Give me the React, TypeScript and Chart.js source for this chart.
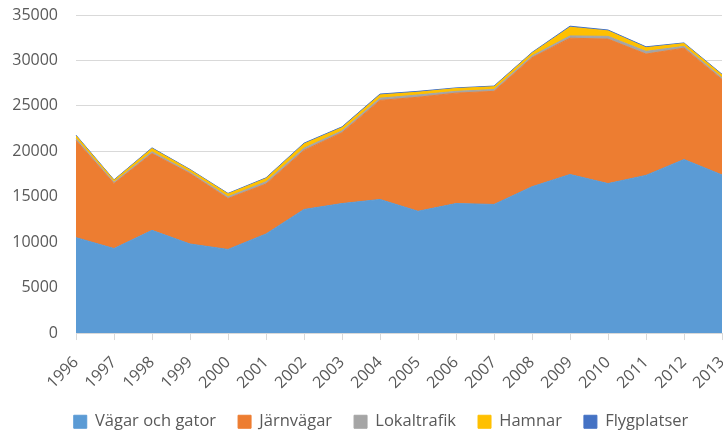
import React, { useEffect, useRef } from "react";
import { Chart, registerables } from "chart.js";

Chart.register(...registerables);

const years = ["1996","1997","1998","1999","2000","2001","2002","2003","2004","2005","2006","2007","2008","2009","2010","2011","2012","2013"];
const vagar = [10500, 9300, 11300, 9800, 9200, 10900, 13600, 14250, 14700, 13400, 14250, 14150, 16100, 17450, 16450, 17350, 19100, 17400];
const jarnvagar = [10700, 7150, 8450, 7750, 5600, 5500, 6500, 7800, 10900, 12550, 12150, 12450, 14200, 15000, 15900, 13350, 12250, 10500];
const lokaltrafik = [200, 150, 200, 150, 200, 250, 250, 200, 250, 250, 200, 200, 200, 250, 300, 300, 200, 200];
const hamnar = [300, 200, 350, 250, 300, 350, 450, 350, 350, 300, 300, 300, 300, 950, 600, 400, 300, 300];
const flygplatser = [80, 60, 80, 60, 70, 80, 100, 90, 100, 100, 80, 80, 80, 120, 100, 100, 80, 80];
const seriesNames = ["Vägar och gator", "Järnvägar", "Lokaltrafik", "Hamnar", "Flygplatser"];
const seriesColors = ["#5B9BD5", "#ED7D31", "#A5A5A5", "#FFC000", "#4472C4"];

const legendShift = {
  id: "legendShift",
  afterLayout(chart: any) {
    if (chart.legend) {
      chart.legend.left += 20;
      chart.legend.right += 20;
    }
  },
};

export default function App() {
  const ref = useRef<HTMLCanvasElement>(null);
  useEffect(() => {
    if (!ref.current) return;
    const all = [vagar, jarnvagar, lokaltrafik, hamnar, flygplatser];
    const font = "'Open Sans', 'Noto Sans', sans-serif";
    const chart = new Chart(ref.current, {
      type: "line",
      plugins: [legendShift],
      data: {
        labels: years,
        datasets: all.map((d, i) => ({
          label: seriesNames[i],
          data: d,
          backgroundColor: seriesColors[i],
          borderColor: seriesColors[i],
          borderWidth: 1,
          pointRadius: 0,
          tension: 0,
          fill: i === 0 ? "origin" : "-1",
        })),
      },
      options: {
        animation: false,
        responsive: true,
        maintainAspectRatio: false,
        layout: { padding: { top: 15, right: 1, left: 0, bottom: -10 } },
        plugins: {
          tooltip: { enabled: false },
          legend: {
            position: "bottom",
            labels: {
              boxWidth: 13,
              boxHeight: 13,
              padding: 22,
              color: "#595959",
              font: { family: font, size: 16.5 },
            },
          },
        },
        scales: {
          x: {
            offset: false,
            grid: { drawOnChartArea: false, drawTicks: true, tickLength: 7, color: "#D9D9D9" },
            border: { color: "#D9D9D9" },
            afterFit: (s: any) => { s.paddingLeft = 0; s.paddingRight = 0; s.height -= 14; },
            ticks: {
              maxRotation: 45,
              minRotation: 45,
              color: "#595959",
              font: { family: font, size: 16 },
              padding: 13,
            },
          },
          y: {
            stacked: true,
            min: 0,
            max: 35000,
            afterFit: (s: any) => { s.width = 76; s.paddingTop = 0; s.paddingBottom = 0; },
            grid: { color: "#D9D9D9", drawTicks: false },
            border: { display: false },
            ticks: {
              stepSize: 5000,
              color: "#595959",
              font: { family: font, size: 16 },
              padding: 18,
              callback: (v: any) => String(v),
            },
          },
        },
      },
    });
    return () => chart.destroy();
  }, []);
  return (
    <div style={{ position: "fixed", left: 0, top: 0, width: 723, height: 430, background: "#fff" }}>
      <canvas ref={ref} />
    </div>
  );
}
